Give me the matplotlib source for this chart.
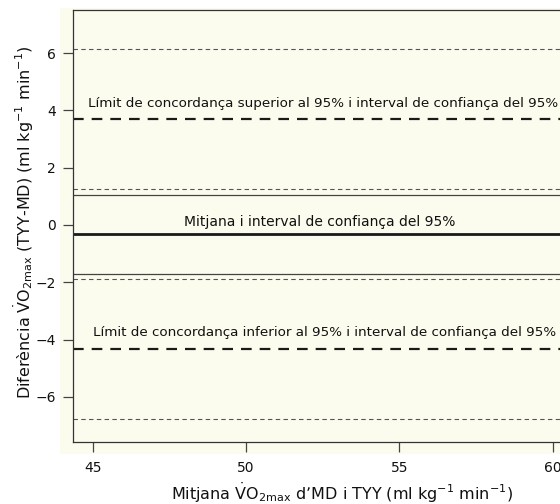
import matplotlib
matplotlib.use("Agg")
import matplotlib.pyplot as plt

plt.rcParams['font.family'] = ['DejaVu Sans']
plt.rcParams['mathtext.fontset'] = 'dejavusans'

# Data
mean_diff = -0.32
mean_ci = [1.06, -1.70]
loa_upper = 3.70
loa_upper_ci = [6.14, 1.26]
loa_lower = -4.34
loa_lower_ci = [-1.90, -6.78]
x_ticks = [45, 50, 55, 60]
y_ticks = [-6, -4, -2, 0, 2, 4, 6]
label_upper = "Límit de concordança superior al 95% i interval de confiança del 95%"
label_mean = "Mitjana i interval de confiança del 95%"
label_lower = "Límit de concordança inferior al 95% i interval de confiança del 95%"

W, H = 560, 504
fig = plt.figure(figsize=(W/100, H/100), dpi=100)
fig.patch.set_facecolor('white')
# cream panel background
bg = fig.add_axes([60/W, 1-454/H, 1-60/W, (454-8)/H], zorder=-10)
bg.set_facecolor('#fcfcee')
bg.set_xticks([]); bg.set_yticks([])
for s in bg.spines.values():
    s.set_visible(False)

ax = fig.add_axes([73/W, 1-441.7/H, (611-73)/W, (441.7-10)/H], zorder=1)
ax.patch.set_alpha(0)
ax.set_xlim(44.358, 61.90)
ax.set_ylim(-7.57, 7.51)

dark = '#1a1a1a'
grey = '#555555'
ax.axhline(mean_diff, color=dark, lw=2.0)
for v in mean_ci:
    ax.axhline(v, color='#444444', lw=0.9)
ax.axhline(loa_upper, color=dark, lw=1.6, dashes=(4.8, 3.6))
ax.axhline(loa_lower, color=dark, lw=1.6, dashes=(4.8, 3.6))
for v in loa_upper_ci + loa_lower_ci:
    ax.axhline(v, color=grey, lw=0.8, dashes=(4.0, 3.0))

tkw = dict(ha='left', va='center', color='#111111')
ax.text(44.86, 4.26, label_upper, fontsize=9.7, **tkw)
ax.text(47.99, 0.12, label_mean, fontsize=10.0, **tkw)
ax.text(45.02, -3.74, label_lower, fontsize=9.7, **tkw)

ax.set_xticks(x_ticks)
ax.set_yticks(y_ticks)
ax.tick_params(direction='out', length=7.2, width=0.9, color='#444444',
               labelsize=10, labelcolor='#111111')
ax.tick_params(axis='x', pad=7)
ax.tick_params(axis='y', pad=5)
for s in ax.spines.values():
    s.set_color('#333333')
    s.set_linewidth(0.9)

fig.text(24/W, 1-222/H,
         r'Diferència $\dot{\mathrm{V}}\mathrm{O}_{2\mathrm{max}}$ (TYY-MD) (ml kg$^{-1}$ min$^{-1}$)',
         rotation=90, ha='center', va='center', fontsize=11.5, color='#111111')
fig.text(342/W, 1-500/H,
         r'Mitjana $\dot{\mathrm{V}}\mathrm{O}_{2\mathrm{max}}$ d’MD i TYY (ml kg$^{-1}$ min$^{-1}$)',
         ha='center', va='baseline', fontsize=11.5, color='#111111')

fig.savefig('out.png', dpi=100)
